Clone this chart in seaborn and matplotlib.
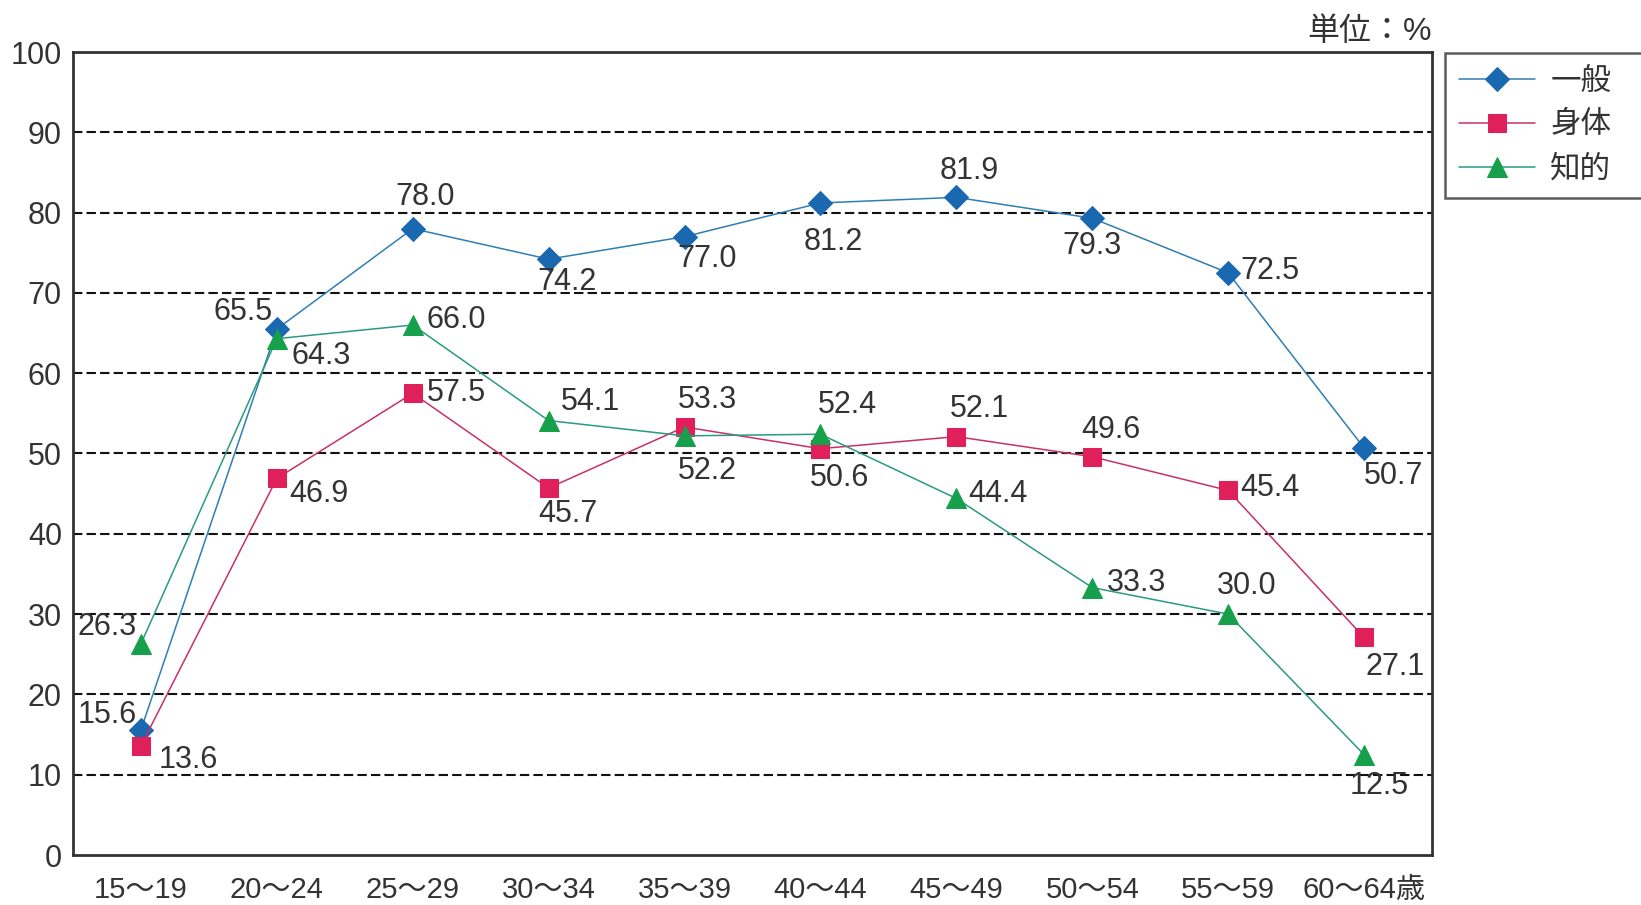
import matplotlib
matplotlib.use("Agg")
import matplotlib.pyplot as plt
import seaborn as sns
import pandas as pd

categories = ["15〜19", "20〜24", "25〜29", "30〜34", "35〜39",
              "40〜44", "45〜49", "50〜54", "55〜59", "60〜64歳"]
series_names = ["一般", "身体", "知的"]
general = [15.6, 65.5, 78.0, 74.2, 77.0, 81.2, 81.9, 79.3, 72.5, 50.7]
physical = [13.6, 46.9, 57.5, 45.7, 53.3, 50.6, 52.1, 49.6, 45.4, 27.1]
intellectual = [26.3, 64.3, 66.0, 54.1, 52.2, 52.4, 44.4, 33.3, 30.0, 12.5]
y_ticks = [0, 10, 20, 30, 40, 50, 60, 70, 80, 90, 100]
unit_label = "単位：%"

# label offsets (pixels in reference, x right, y down)
label_offsets = {
    "一般": [(-32, -14), (-32, -16), (12, -30), (18, 22), (22, 21), (12, 37), (12, -25), (0, 27), (40, -2), (28, 27)],
    "身体": [(45, 14), (40, 15), (42, 0), (18, 25), (22, -26), (18, 28), (22, -26), (18, -26), (40, -2), (30, 28)],
    "知的": [(-32, -16), (42, 17), (42, -5), (40, -18), (22, 34), (26, -28), (40, -4), (42, -4), (18, -27), (14, 30)],
}
styles = {
    "一般": dict(line="#2f7fb3", face="#1a68b0", marker="D", ms=12, z=3),
    "身体": dict(line="#c8306a", face="#e0205a", marker="s", ms=13, z=3.1),
    "知的": dict(line="#2a9a80", face="#16a04c", marker="^", ms=15, z=3.2),
}

sns.set_theme(style="white")
FAM = ["Liberation Sans", "Noto Sans CJK JP", "DejaVu Sans"]
plt.rcParams["font.family"] = FAM
TXT = "#333333"

W, H = 1641, 905
fig = plt.figure(figsize=(W / 100, H / 100), dpi=100)
ax = fig.add_axes([73 / W, 1 - 855 / H, (1432 - 73) / W, (855 - 52) / H])

data_map = {"一般": general, "身体": physical, "知的": intellectual}
xs = list(range(len(categories)))
df = pd.DataFrame({
    "x": xs * 3,
    "y": general + physical + intellectual,
    "series": sum([[n] * len(categories) for n in series_names], []),
})

# grid lines
for yv in y_ticks[1:-1]:
    ax.axhline(yv, color="#111111", lw=1.5, ls=(0, (4.5, 2)), zorder=1)

for name in series_names:
    st = styles[name]
    sub = df[df["series"] == name]
    sns.lineplot(data=sub, x="x", y="y", ax=ax, color=st["line"], lw=1.1,
                 marker=st["marker"], markersize=st["ms"],
                 markerfacecolor=st["face"], markeredgecolor=st["face"],
                 label=name, zorder=st["z"])

sc = 1641 / 1568
for name in series_names:
    for i, v in enumerate(data_map[name]):
        dx, dy = label_offsets[name][i]
        ax.annotate(f"{v:.1f}", (i, v), xytext=(dx * sc, -dy * sc),
                    textcoords="offset pixels", ha="center", va="center",
                    fontsize=22, color=TXT, zorder=5)

ax.set_xlim(-0.5, len(categories) - 0.5)
ax.set_ylim(0, 100)
ax.set_yticks(y_ticks)
ax.set_yticklabels([str(t) for t in y_ticks], fontsize=22, color=TXT)
ax.set_xticks(xs)
ax.set_xticklabels(categories, fontsize=21, color=TXT)
ax.tick_params(axis="x", length=0, pad=15)
ax.tick_params(axis="y", length=0, pad=8)
ax.set_xlabel("")
ax.set_ylabel("")
for s in ax.spines.values():
    s.set_color("#333333")
    s.set_linewidth(2)

leg = ax.legend(loc="upper left",
                bbox_to_anchor=(1445 / W, 1 - 192 / H, 220 / W, 139 / H),
                bbox_transform=fig.transFigure, mode="expand",
                fontsize=22, frameon=True,
                fancybox=False, edgecolor="#333333", handlelength=2.5,
                borderpad=0.45, labelspacing=0.45, handletextpad=0.5,
                borderaxespad=0)
leg.get_frame().set_linewidth(1.8)
for t in leg.get_texts():
    t.set_color(TXT)

fig.text(1432 / W, 1 - 32 / H, unit_label, ha="right", va="center",
         fontsize=23, color=TXT)

fig.savefig("out.png", dpi=100, facecolor="white")
